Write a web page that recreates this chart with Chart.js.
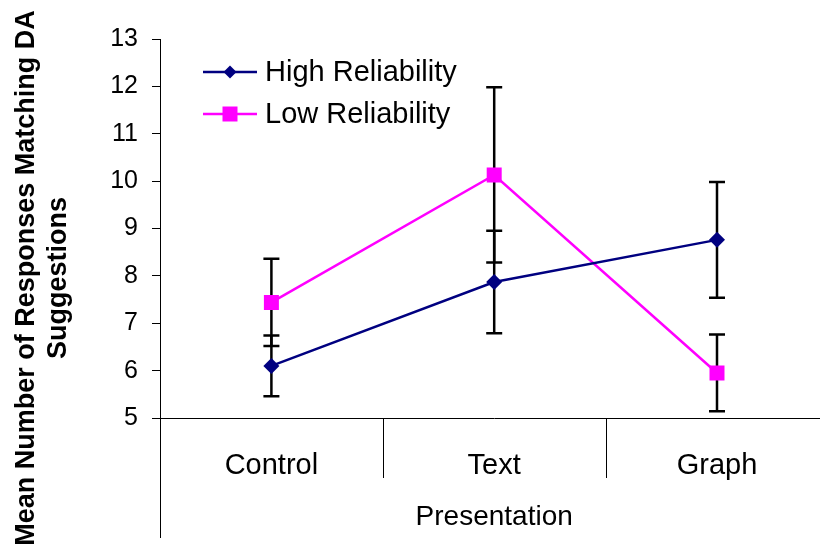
<!DOCTYPE html>
<html>
<head>
<meta charset="utf-8">
<script src="https://cdn.jsdelivr.net/npm/chart.js@4.4.1/dist/chart.umd.min.js"></script>
<style>
  html, body { margin: 0; padding: 0; background: #fff; overflow: hidden; }
  #wrap { width: 839px; height: 546px; }
  canvas { display: block; }
</style>
</head>
<body>
<div id="wrap"><canvas id="chart" width="839" height="546"></canvas></div>
<script>
// data
var categories = ['Control', 'Text', 'Graph'];
var highMeans  = [6.10, 7.87, 8.76];
var highErrors = [0.64, 1.08, 1.22];
var lowMeans   = [7.44, 10.13, 5.95];
var lowErrors  = [0.92, 1.85, 0.81];
var yMin = 5, yMax = 13;
var yTitle = ['Mean Number of Responses Matching DA', 'Suggestions'];
var xTitle = 'Presentation';

var FONT = '"Liberation Sans", Arial, sans-serif';

// error bars, drawn before the lines so markers sit on top
var errorBars = {
  id: 'errorBars',
  beforeDatasetsDraw: function (chart) {
    var ctx = chart.ctx, y = chart.scales.y;
    ctx.save();
    ctx.strokeStyle = '#000';
    ctx.lineWidth = 2.5;
    chart.data.datasets.forEach(function (ds, i) {
      var meta = chart.getDatasetMeta(i);
      meta.data.forEach(function (pt, j) {
        var v = ds.data[j], e = ds.errors[j];
        var top = y.getPixelForValue(v + e), bot = y.getPixelForValue(v - e);
        var x = pt.x;
        ctx.beginPath();
        ctx.moveTo(x, top); ctx.lineTo(x, bot);
        ctx.moveTo(x - 8, top); ctx.lineTo(x + 8, top);
        ctx.moveTo(x - 8, bot); ctx.lineTo(x + 8, bot);
        ctx.stroke();
      });
    });
    ctx.restore();
  }
};

// Excel-ish extras: axis running down, category dividers, y title, legend
var extras = {
  id: 'extras',
  afterDraw: function (chart) {
    var ctx = chart.ctx, area = chart.chartArea, x = chart.scales.x;
    ctx.save();
    ctx.strokeStyle = '#000';
    ctx.lineWidth = 1;
    ctx.beginPath();
    ctx.moveTo(area.left + 0.5, area.bottom);
    ctx.lineTo(area.left + 0.5, 538);
    for (var i = 0; i < categories.length - 1; i++) {
      var bx = Math.round((x.getPixelForTick(i) + x.getPixelForTick(i + 1)) / 2) + 0.5;
      ctx.moveTo(bx, area.bottom);
      ctx.lineTo(bx, area.bottom + 60);
    }
    ctx.stroke();

    // y title
    ctx.fillStyle = '#000';
    ctx.font = 'bold 27px ' + FONT;
    ctx.textAlign = 'center';
    ctx.textBaseline = 'middle';
    ctx.translate(27, 278);
    ctx.rotate(-Math.PI / 2);
    ctx.fillText(yTitle[0], 0, 0);
    ctx.fillText(yTitle[1], 0, 32);
    ctx.setTransform(1, 0, 0, 1, 0, 0);

    // legend
    var rows = [72, 114];
    chart.data.datasets.forEach(function (ds, i) {
      var ry = rows[i];
      ctx.strokeStyle = ds.borderColor;
      ctx.lineWidth = 2.5;
      ctx.beginPath();
      ctx.moveTo(203, ry); ctx.lineTo(257, ry);
      ctx.stroke();
      ctx.fillStyle = ds.backgroundColor;
      ctx.beginPath();
      if (ds.pointStyle === 'rectRot') {
        ctx.moveTo(230, ry - 6.5); ctx.lineTo(236.5, ry);
        ctx.lineTo(230, ry + 6.5); ctx.lineTo(223.5, ry);
        ctx.closePath();
      } else {
        ctx.rect(222.5, ry - 7.5, 15, 15);
      }
      ctx.fill();
      ctx.fillStyle = '#000';
      ctx.font = '29px ' + FONT;
      ctx.textAlign = 'left';
      ctx.textBaseline = 'middle';
      ctx.fillText(ds.label, 265, ry + 1);
    });
    ctx.restore();
  }
};

var ctx = document.getElementById('chart').getContext('2d');
new Chart(ctx, {
  type: 'line',
  data: {
    labels: categories,
    datasets: [{
      label: 'High Reliability',
      data: highMeans,
      errors: highErrors,
      borderColor: '#000080',
      backgroundColor: '#000080',
      borderWidth: 2.5,
      pointStyle: 'rectRot',
      pointRadius: 8,
      pointBorderWidth: 0,
      tension: 0
    }, {
      label: 'Low Reliability',
      data: lowMeans,
      errors: lowErrors,
      borderColor: '#ff00ff',
      backgroundColor: '#ff00ff',
      borderWidth: 2.5,
      pointStyle: 'rect',
      pointRadius: 10.6,
      pointBorderWidth: 0,
      tension: 0
    }]
  },
  options: {
    responsive: false,
    maintainAspectRatio: false,
    animation: false,
    // canvas is wider than the window: the plot area runs past the right edge, as in the original
    layout: { padding: { top: 39, right: 1, left: 0, bottom: 0 } },
    plugins: { legend: { display: false }, tooltip: { enabled: false } },
    scales: {
      x: {
        offset: true,
        grid: { display: false },
        border: { display: true, color: '#000', width: 1 },
        ticks: { color: '#000', font: { family: FONT, size: 29 }, padding: 23, maxRotation: 0 },
        title: {
          display: true, text: xTitle, color: '#000',
          font: { family: FONT, size: 28 }, padding: { top: 0, bottom: 12 }
        },
        afterFit: function (s) { s.height = 128; }
      },
      y: {
        min: yMin, max: yMax,
        grid: { drawOnChartArea: false, tickLength: 8, color: '#000' },
        border: { display: true, color: '#000', width: 1 },
        ticks: { stepSize: 1, color: '#000', font: { family: FONT, size: 25 }, padding: 14 },
        afterFit: function (s) { s.width = 160; }
      }
    }
  },
  plugins: [errorBars, extras]
});
</script>
</body>
</html>
